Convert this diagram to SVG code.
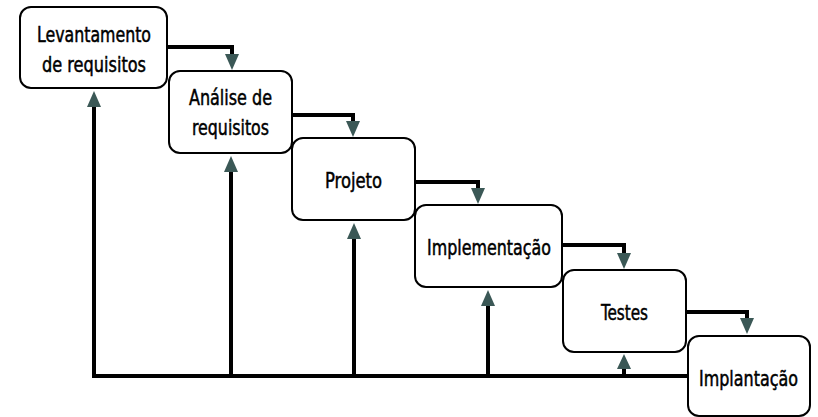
<svg xmlns="http://www.w3.org/2000/svg" width="818" height="417" viewBox="0 0 818 417">
<defs>
<style>
.box{fill:#fff;stroke:#000;stroke-width:2}
.ln{fill:none;stroke:#000;stroke-width:4}
.ah{fill:#3b5856}
text{font-family:"DejaVu Sans Condensed","DejaVu Sans",sans-serif;font-size:22px;fill:#000;stroke:#000;stroke-width:0.5;text-anchor:start}
</style>
</defs>
<rect width="818" height="417" fill="#fff"/>
<g id="connectors">
<polyline class="ln" points="167,47 232,47 232,54"/>
<polygon class="ah" points="225,54 239,54 232,70"/>
<polyline class="ln" points="292,115 353,115 353,121"/>
<polygon class="ah" points="346,121 360,121 353,137"/>
<polyline class="ln" points="415,182 478,182 478,188"/>
<polygon class="ah" points="471,188 485,188 478,204"/>
<polyline class="ln" points="562,245 624,245 624,253"/>
<polygon class="ah" points="617,253 631,253 624,269"/>
<polyline class="ln" points="686,312 747,312 747,318"/>
<polygon class="ah" points="740,318 754,318 747,334"/>
<polyline class="ln" points="688,376 94,376 94,106"/>
<polygon class="ah" points="87,107 101,107 94,91"/>
<line class="ln" x1="231" y1="376" x2="231" y2="171"/>
<polygon class="ah" points="224,172 238,172 231,156"/>
<line class="ln" x1="354" y1="376" x2="354" y2="238"/>
<polygon class="ah" points="347,239 361,239 354,223"/>
<line class="ln" x1="488" y1="376" x2="488" y2="305"/>
<polygon class="ah" points="481,306 495,306 488,290"/>
<line class="ln" x1="624" y1="376" x2="624" y2="368"/>
<polygon class="ah" points="617,369 631,369 624,354"/>
</g>
<g id="n1"><rect class="box" x="20" y="7" width="147" height="81" rx="11"/>
<text x="37" y="42" textLength="114" lengthAdjust="spacingAndGlyphs">Levantamento</text>
<text x="42" y="72" textLength="104" lengthAdjust="spacingAndGlyphs">de requisitos</text></g>
<g id="n2"><rect class="box" x="169" y="71" width="123" height="82" rx="11"/>
<text x="189" y="105" textLength="83" lengthAdjust="spacingAndGlyphs">Análise de</text>
<text x="192" y="135" textLength="77" lengthAdjust="spacingAndGlyphs">requisitos</text></g>
<g id="n3"><rect class="box" x="292" y="138" width="123" height="82" rx="11"/>
<text x="325" y="188" textLength="57" lengthAdjust="spacingAndGlyphs">Projeto</text></g>
<g id="n4"><rect class="box" x="415" y="205" width="147" height="82" rx="11"/>
<text x="427" y="255" textLength="124" lengthAdjust="spacingAndGlyphs">Implementação</text></g>
<g id="n5"><rect class="box" x="563" y="270" width="123" height="82" rx="11"/>
<text x="601" y="320" textLength="47" lengthAdjust="spacingAndGlyphs">Testes</text></g>
<g id="n6"><rect class="box" x="688" y="336" width="122" height="80" rx="11"/>
<text x="699" y="386" textLength="99" lengthAdjust="spacingAndGlyphs">Implantação</text></g>
</svg>
